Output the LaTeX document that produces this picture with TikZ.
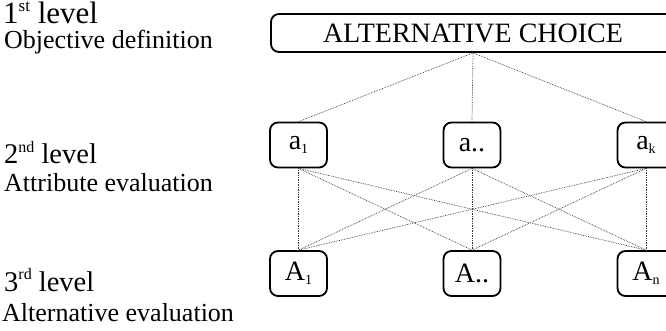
\documentclass[tikz,border=0pt]{standalone}
\usepackage{fontspec}
\setmainfont{Liberation Serif}
\newcommand\supx[2][16]{\raisebox{0.85ex}{\fontsize{#1}{#1}\selectfont #2}}
\newcommand\subx[1]{\raisebox{-0.3ex}{\fontsize{14}{14}\selectfont #1}}
\begin{document}
\begin{tikzpicture}[x=1pt,y=-1pt,
  box/.style={draw, line width=1.8pt, rounded corners=8pt, minimum width=57pt,
    minimum height=45pt, inner sep=0pt, font=\fontsize{28}{32}\selectfont},
  link/.style={densely dotted, line width=0.7pt, black!80},
  lab/.style={anchor=base west, inner sep=0pt, font=\fontsize{26}{30}\selectfont},
  lvl/.style={anchor=base west, inner sep=0pt, font=\fontsize{28.5}{32}\selectfont},
  biglab/.style={anchor=base west, inner sep=0pt, font=\fontsize{31}{34}\selectfont}]
\clip (0,0) rectangle (666,331);
% boxes
\node[box, minimum width=404pt, minimum height=38pt] (top) at (473,33) {ALTERNATIVE CHOICE};
\node[box] (a1) at (298.5,145) {a\subx{1}};
\node[box] (a2) at (472,145) {a..};
\node[box] (a3) at (646,145) {a\subx{k}};
\node[box] (A1) at (298.5,273.5) {A\subx{1}};
\node[box] (A2) at (472,273.5) {A..};
\node[box] (A3) at (646,273.5) {A\subx{n}};
% links
\foreach \t in {a1,a2,a3} \draw[link] (top.south) -- (\t.north);
\foreach \s in {a1,a2,a3} \foreach \t in {A1,A2,A3} \draw[link] (\s.south) -- (\t.north);
% labels
\node[biglab] (l1) at (3,24) {1\supx[17]{st} level};
\node[lab] (d1) at (4,49) {Objective definition};
\node[lvl] (l2) at (4,164) {2\supx{nd} level};
\node[lab] (d2) at (4,192) {Attribute evaluation};
\node[lvl] (l3) at (4,291) {3\supx{rd} level};
\node[lab] (d3) at (2,321) {Alternative evaluation};
\end{tikzpicture}
\end{document}
